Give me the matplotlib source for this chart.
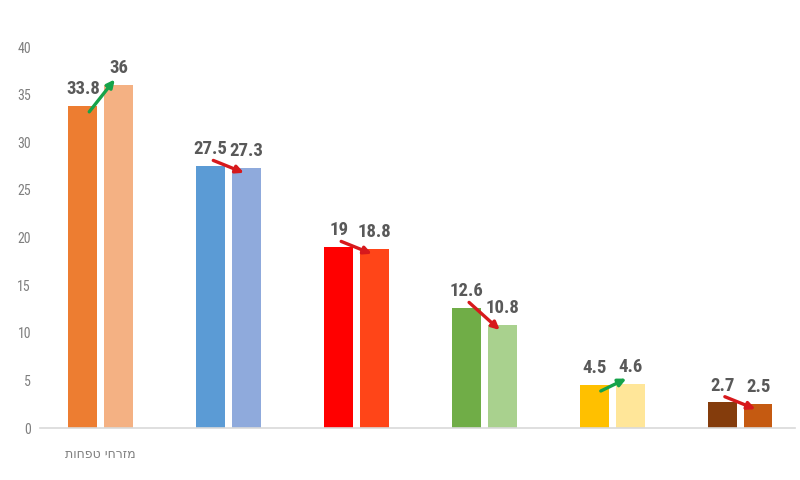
import matplotlib

matplotlib.use("Agg")

import matplotlib.pyplot as plt
import numpy as np

# data
categories = ["מזרחי טפחות", "", "", "", "", ""]
before = [33.8, 27.5, 19.0, 12.6, 4.5, 2.7]
after = [36.0, 27.3, 18.8, 10.8, 4.6, 2.5]
before_labels = ["33.8", "27.5", "19", "12.6", "4.5", "2.7"]
after_labels = ["36", "27.3", "18.8", "10.8", "4.6", "2.5"]
before_colors = ["#ED7D31", "#5B9BD5", "#FF0000", "#70AD47", "#FFC000", "#843C0C"]
after_colors = ["#F4B183", "#8FAADC", "#FF4518", "#A9D18E", "#FFE699", "#C55A11"]
y_ticks = [0, 5, 10, 15, 20, 25, 30, 35, 40]

NARROW = ["Roboto Condensed", "Barlow Condensed", "DejaVu Sans"]


def hebrew(text):
    # matplotlib has no bidi support, so lay out right-to-left text by hand
    return text[::-1]


fig = plt.figure(figsize=(8, 4.8), dpi=100)
ax = fig.add_axes([0.05, 0.108, 0.944, 0.794])

x = np.arange(len(before))
width = 0.225
offset = 0.14

ax.bar(x - offset, before, width, color=before_colors, zorder=2)
ax.bar(x + offset, after, width, color=after_colors, zorder=2)

for i in range(len(x)):
    ax.text(x[i] - offset, before[i] + 1.25, before_labels[i], ha="center", va="baseline",
            fontsize=13.5, fontweight="bold", color="#595959", family=NARROW)
    ax.text(x[i] + offset, after[i] + 1.25, after_labels[i], ha="center", va="baseline",
            fontsize=13.5, fontweight="bold", color="#595959", family=NARROW)
    if after[i] > before[i]:
        start = (x[i] - 0.09, before[i] - 0.6)
        end = (x[i] + 0.11, after[i] + 0.6)
        color = "#16A34A"
    else:
        start = (x[i] - 0.12, before[i] + 0.6)
        end = (x[i] + 0.12, after[i] - 0.5)
        color = "#D7191C"
    ax.annotate("", xy=end, xytext=start, zorder=4,
                arrowprops=dict(arrowstyle="-|>,head_length=0.45,head_width=0.22",
                                color=color, lw=2.4, shrinkA=0, shrinkB=0))

ax.set_xlim(-0.475, 5.43)
ax.set_ylim(0, 40)
ax.set_yticks(y_ticks)
ax.set_yticklabels([str(t) for t in y_ticks], family=NARROW)
ax.set_xticks(x)
ax.set_xticklabels([hebrew(c) for c in categories], family=["DejaVu Sans"])
ax.tick_params(axis="y", length=0, labelsize=10, labelcolor="#7f7f7f", pad=6.5)
ax.tick_params(axis="x", length=0, labelsize=9, labelcolor="#7f7f7f", pad=14)

for side in ["left", "right", "top"]:
    ax.spines[side].set_visible(False)
ax.spines["bottom"].set_color("#d9d9d9")
ax.spines["bottom"].set_linewidth(1.2)

plt.savefig("out.png", dpi=100)
plt.close(fig)
